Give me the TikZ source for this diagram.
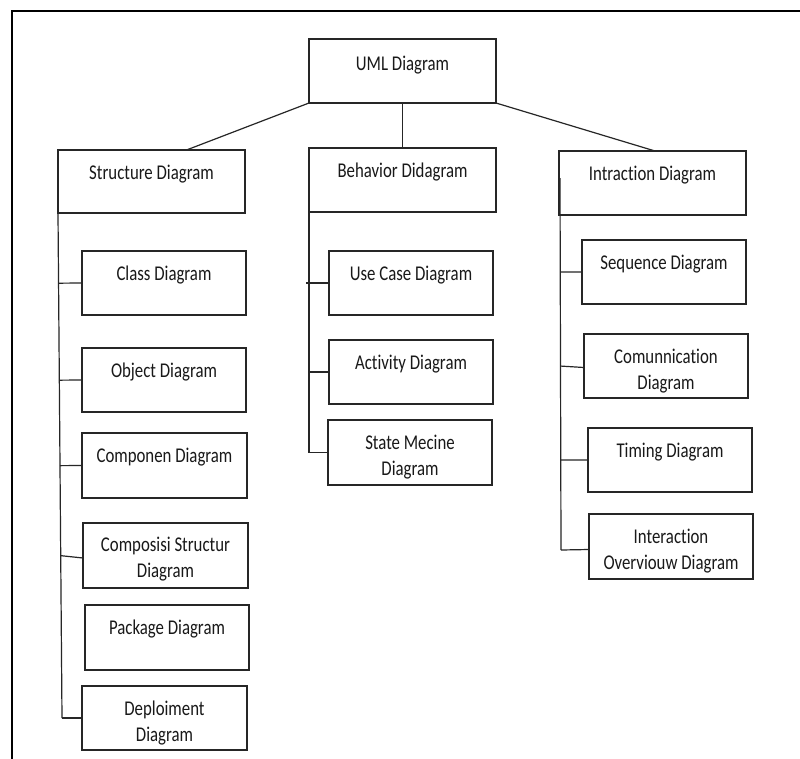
\documentclass[tikz,border=0pt]{standalone}
\usepackage{fontspec}
\setmainfont{Carlito}[Ligatures={NoCommon,NoRare,NoDiscretionary}]
\usetikzlibrary{calc}
\begin{document}
\begin{tikzpicture}[x=1pt,y=-1pt,
  box/.style={draw=black!85, line width=1.3pt, inner sep=0pt, outer sep=0pt},
  lbl/.style={font=\fontsize{21}{25.6}\selectfont, inner sep=0pt, xscale=0.8, align=center, anchor=base, text=black!90},
  conn/.style={draw=black!85, line width=1.2pt}]
\useasboundingbox (0,0) rectangle (800,758);
\fill[white] (0,0) rectangle (800,758);
\draw[line width=2pt] (12,760) -- (12,11) -- (802,11);

% top level
\node[box, minimum width=187, minimum height=64] (uml) at (402.5,71) {};
\node[box, minimum width=187, minimum height=63] (st) at (151.5,181.5) {};
\node[box, minimum width=187, minimum height=64] (be) at (402.5,180) {};
\node[box, minimum width=187, minimum height=64] (in) at (652.5,183) {};
\node[lbl] (umlt) at ($(uml.north)+(0,31)$) {UML Diagram};
\node[lbl] (stt) at ($(st.north)+(0,29)$) {Structure Diagram};
\node[lbl] (bet) at ($(be.north)+(0,29)$) {Behavior Didagram};
\node[lbl] (intt) at ($(in.north)+(0,29)$) {Intraction Diagram};

% structure children
\node[box, minimum width=164, minimum height=64] (cls) at (164,283) {};
\node[box, minimum width=164, minimum height=64] (obj) at (164,380) {};
\node[box, minimum width=165, minimum height=65] (cmp) at (164.5,465.5) {};
\node[box, minimum width=165, minimum height=65] (cst) at (165.5,555.5) {};
\node[box, minimum width=164, minimum height=65] (pkg) at (167,637.5) {};
\node[box, minimum width=165, minimum height=64] (dep) at (164.5,718) {};
\node[lbl] (clst) at ($(cls.north)+(0,29)$) {Class Diagram};
\node[lbl] (objt) at ($(obj.north)+(0,29)$) {Object Diagram};
\node[lbl] (cmpt) at ($(cmp.north)+(0,29)$) {Componen Diagram};
\node[lbl] (cstt) at ($(cst.north)+(0,54.5)$) {Composisi Structur\\Diagram};
\node[lbl] (pkgt) at ($(pkg.north)+(0,29)$) {Package Diagram};
\node[lbl] (dept) at ($(dep.north)+(0,55)$) {Deploiment\\Diagram};

% behavior children
\node[box, minimum width=164, minimum height=64] (uc) at (411,283) {};
\node[box, minimum width=164, minimum height=64] (act) at (411,372) {};
\node[box, minimum width=164, minimum height=65] (sm) at (410,452.5) {};
\node[lbl] (uct) at ($(uc.north)+(0,29)$) {Use Case Diagram};
\node[lbl] (actt) at ($(act.north)+(0,29)$) {Activity Diagram};
\node[lbl] (smt) at ($(sm.north)+(0,55)$) {State Mecine\\Diagram};

% interaction children
\node[box, minimum width=164, minimum height=64] (seq) at (664,272) {};
\node[box, minimum width=164, minimum height=64] (com) at (666,366) {};
\node[box, minimum width=164, minimum height=64] (tim) at (670,460) {};
\node[box, minimum width=164, minimum height=65] (io) at (671,546.5) {};
\node[lbl] (seqt) at ($(seq.north)+(0,29)$) {Sequence Diagram};
\node[lbl] (comt) at ($(com.north)+(0,55)$) {Comunnication\\Diagram};
\node[lbl] (timt) at ($(tim.north)+(0,29)$) {Timing Diagram};
\node[lbl] (iot) at ($(io.north)+(0,55)$) {Interaction\\Overviouw Diagram};

% top connectors
\draw[conn] (uml.south west) -- ($(st.north)+(35,0)$);
\draw[conn] (uml.south) -- (be.north);
\draw[conn] (uml.south east) -- ($(in.north)+(2.5,0)$);

% structure spine
\coordinate (sEnd) at (62,718);
\draw[conn] (st.south west) -- (sEnd);
\draw[conn] ($(st.south west)!(cls.west)!(sEnd)$) -- (cls.west);
\draw[conn] ($(st.south west)!(obj.west)!(sEnd)$) -- (obj.west);
\draw[conn] ($(st.south west)!(cmp.west)!(sEnd)$) -- (cmp.west);
\draw[conn] ($(st.south west)!(cst.west)!(sEnd)$) -- ([yshift=-2.5pt]cst.west);
\draw[conn] (sEnd) -- (dep.west);

% behavior spine
\coordinate (bEnd) at (be.south west |- sm.west);
\draw[conn] (be.south west) -- (bEnd);
\draw[conn] ($(be.south west |- uc.west)+(-3,0)$) -- (uc.west);
\draw[conn] (be.south west |- act.west) -- (act.west);
\draw[conn] (bEnd) -- (sm.west);

% interaction spine
\coordinate (iTop) at (560,178);
\coordinate (iEnd) at (561,550);
\draw[conn] (iTop) -- (iEnd);
\draw[conn] ($(iTop)!(seq.west)!(iEnd)$) -- (seq.west);
\draw[conn] ($(iTop)!(com.west)!(iEnd)$) -- ([yshift=-1.5pt]com.west);
\draw[conn] ($(iTop)!(tim.west)!(iEnd)$) -- (tim.west);
\draw[conn] (iEnd) -- ([yshift=-3pt]io.west);
\end{tikzpicture}
\end{document}
